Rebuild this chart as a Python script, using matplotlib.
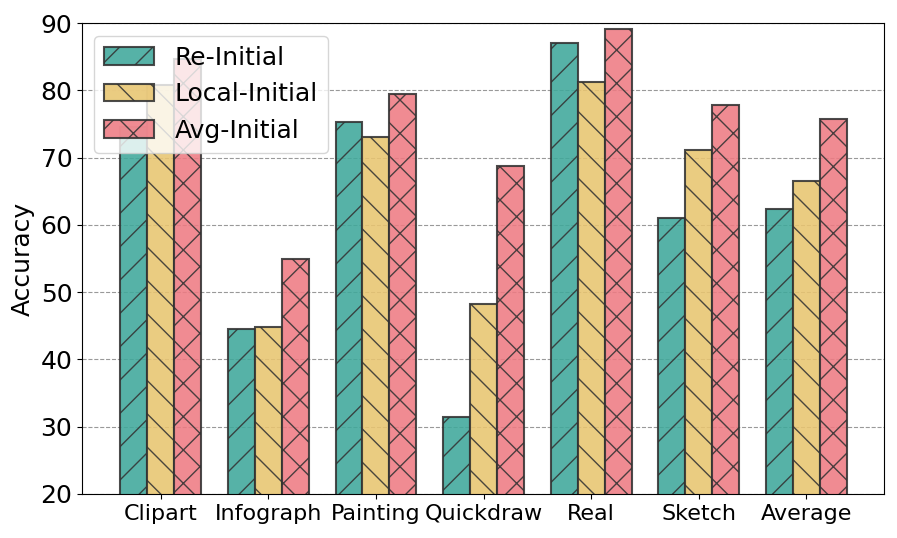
import numpy as np
import matplotlib
matplotlib.use("Agg")
import matplotlib.pyplot as plt

categories = ["Clipart", "Infograph", "Painting", "Quickdraw", "Real", "Sketch", "Average"]
re_initial = [74.5, 44.5, 75.3, 31.5, 87.1, 61.0, 62.3]
local_initial = [80.8, 44.9, 73.0, 48.3, 81.3, 71.1, 66.6]
avg_initial = [84.6, 54.9, 79.5, 68.7, 89.2, 77.9, 75.8]

series = [
    ("Re-Initial", re_initial, "#3fa89b", "/"),
    ("Local-Initial", local_initial, "#e8c570", "\\"),
    ("Avg-Initial", avg_initial, "#ee7b83", "x"),
]

fig, ax = plt.subplots(figsize=(8.97, 5.38), dpi=100)
x = np.arange(len(categories))
width = 0.25

ax.set_axisbelow(True)
ax.grid(axis="y", linestyle="--", color="gray", alpha=0.8, lw=0.8)

for i, (label, vals, color, hatch) in enumerate(series):
    ax.bar(x + (i - 1) * width, vals, width, label=label, color=color,
           alpha=0.88, edgecolor="#333333", linewidth=1.5, hatch=hatch)

ax.set_ylim(20, 90)
ax.set_xlim(-0.73, 6.72)
ax.set_xticks(x)
ax.set_xticklabels(categories, fontsize=16)
ax.tick_params(axis="y", labelsize=18)
ax.set_ylabel("Accuracy", fontsize=18)
ax.legend(loc="upper left", fontsize=18, handlelength=2.0)

plt.subplots_adjust(left=0.0914, right=0.9855, top=0.957, bottom=0.0818)
plt.savefig("out.png", dpi=100)
